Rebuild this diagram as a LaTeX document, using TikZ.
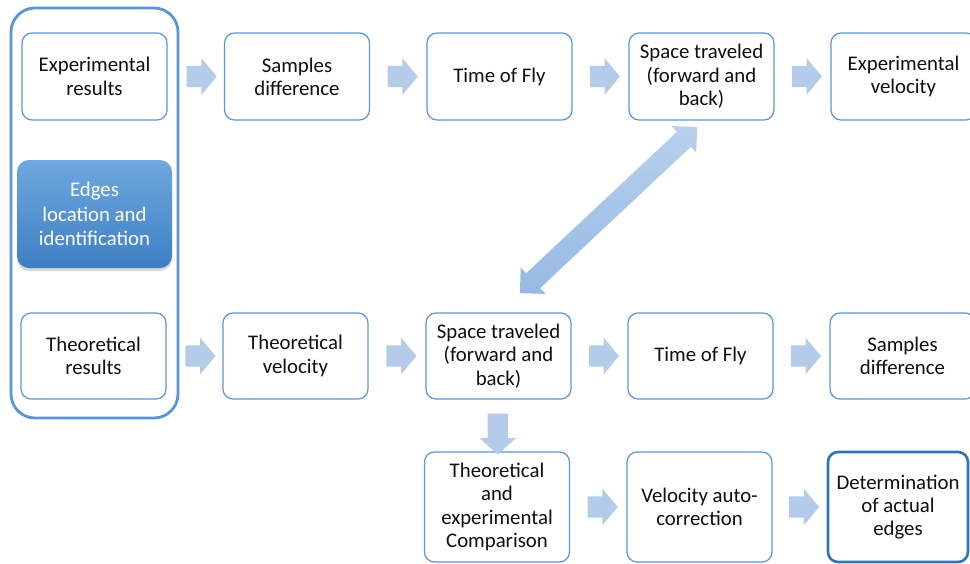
\documentclass[tikz,border=0pt]{standalone}
\usepackage{fontspec}
\setmainfont{Carlito}
\usetikzlibrary{shapes.arrows,shadows,calc}
\definecolor{boxline}{RGB}{91,150,212}
\definecolor{detline}{RGB}{46,117,182}
\definecolor{arrowc}{RGB}{180,204,234}
\definecolor{diagA}{RGB}{184,208,238}
\definecolor{diagB}{RGB}{150,186,228}
\definecolor{edgetop}{RGB}{112,168,222}
\definecolor{edgebot}{RGB}{62,126,196}
\definecolor{textc}{RGB}{15,15,15}
\begin{document}
\begin{tikzpicture}[x=1pt,y=-1pt,
  box/.style={draw=boxline, line width=1.2pt, rounded corners=10pt, fill=white,
    minimum width=145pt, minimum height=87pt, align=center, inner sep=2pt,
    font=\fontsize{20.8}{23.3}\selectfont, text=textc},
  rarrow/.style={single arrow, fill=arrowc, draw=none, inner xsep=0pt, inner ysep=10.5pt,
    minimum height=30pt, single arrow head extend=7.5pt, single arrow tip angle=100},
  darrow/.style={single arrow, fill=arrowc, draw=none, inner xsep=0pt, inner ysep=10pt,
    minimum height=41pt, single arrow head extend=8pt, single arrow tip angle=95, rotate=-90},
  biarrow/.style={double arrow, top color=diagA, bottom color=diagB, draw=none, inner xsep=0pt,
    inner ysep=10pt, minimum height=243pt, double arrow head extend=8pt, double arrow tip angle=90},
]
\path[use as bounding box, clip] (0,0) rectangle (970,563);

% group frame
\node[draw=boxline, line width=2.8pt, rounded corners=24pt, minimum width=167pt,
  minimum height=410pt, inner sep=0pt] (group) at (94.5,213) {};

% row 1
\node[box] (er)  at (94.5,76.5)  {Experimental\\results};
\node[box] (sd1) at (297,76.5)   {Samples\\difference};
\node[box] (tf1) at (499.5,76.5) {Time of Fly};
\node[box] (st1) at (701.5,76.5) {Space traveled\\(forward and\\back)};
\node[box] (ev)  at (903.5,76.5) {Experimental\\velocity};

% central highlighted box
\node[rounded corners=12pt, top color=edgetop, bottom color=edgebot, draw=none,
  minimum width=155pt, minimum height=108pt, align=center, text=white,
  font=\fontsize{20.8}{24.5}\selectfont,
  drop shadow={opacity=0.3, shadow xshift=0pt, shadow yshift=-3pt}]
  (edges) at (94.5,214) {Edges\\location and\\identification};

% row 2
\node[box, minimum height=86pt] (tr)  at (93.5,356)  {Theoretical\\results};
\node[box, minimum height=86pt] (tv)  at (295.5,356) {Theoretical\\velocity};
\node[box, minimum height=86pt] (st2) at (498.5,356) {Space traveled\\(forward and\\back)};
\node[box, minimum height=86pt] (tf2) at (700.5,356) {Time of Fly};
\node[box, minimum height=86pt] (sd2) at (902.5,356) {Samples\\difference};

% row 3
\node[box, minimum height=110pt] (cmp) at (497,507)   {Theoretical\\and\\experimental\\Comparison};
\node[box, minimum height=110pt] (vac) at (699.5,507) {Velocity auto-\\correction};
\node[box, minimum height=110pt, minimum width=140pt, draw=detline, line width=2.6pt]
  (det) at (898,507) {Determination\\of actual\\edges};

% horizontal block arrows
\node[rarrow] (a1) at ($(er.east)!0.5!(sd1.west)+(1.5,0)$) {};
\node[rarrow] (a2) at ($(sd1.east)!0.5!(tf1.west)$) {};
\node[rarrow] (a3) at ($(tf1.east)!0.5!(st1.west)$) {};
\node[rarrow] (a4) at ($(st1.east)!0.5!(ev.west)$) {};
\node[rarrow] (b1) at ($(tr.east)!0.5!(tv.west)+(1.5,0)$) {};
\node[rarrow] (b2) at ($(tv.east)!0.5!(st2.west)$) {};
\node[rarrow] (b3) at ($(st2.east)!0.5!(tf2.west)$) {};
\node[rarrow] (b4) at ($(tf2.east)!0.5!(sd2.west)$) {};
\node[rarrow] (c1) at ($(cmp.east)!0.5!(vac.west)$) {};
\node[rarrow] (c2) at ($(vac.east)!0.5!(det.west)$) {};

% down arrow
\node[darrow] (d1) at ($(st2.south)!0.5!(cmp.north)+(0,4)$) {};

% diagonal double arrow
\coordinate (T1) at (697,127);
\coordinate (T2) at (520,293);
\node[biarrow, rotate=43.16] (diag) at ($(T1)!0.5!(T2)$) {};
\end{tikzpicture}
\end{document}
